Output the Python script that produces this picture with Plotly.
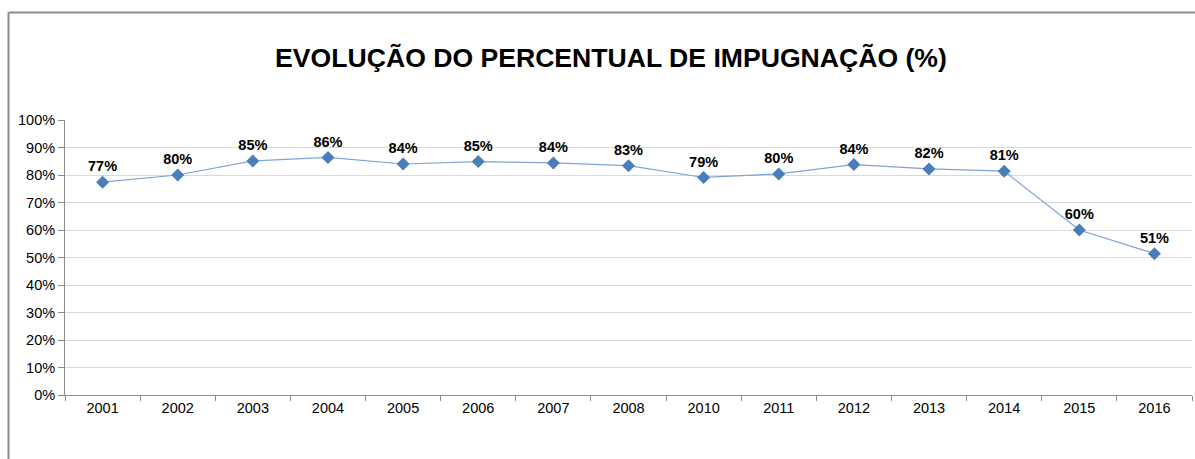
import plotly.graph_objects as go

years = ["2001", "2002", "2003", "2004", "2005", "2006", "2007", "2008",
         "2010", "2011", "2012", "2013", "2014", "2015", "2016"]
percent = [0.774, 0.800, 0.851, 0.864, 0.840, 0.849, 0.844, 0.834,
           0.791, 0.804, 0.838, 0.822, 0.814, 0.600, 0.514]
y_ticks = [i / 10 for i in range(11)]

FONT = "Liberation Sans, Arial, sans-serif"

fig = go.Figure()
fig.add_trace(go.Scatter(
    x=years, y=percent,
    mode="lines+markers+text",
    line=dict(color="#7ea3d6", width=1.2),
    marker=dict(symbol="diamond", size=10, color="#4a7ebb"),
    texttemplate="%{y:.0%}",
    textposition="top center",
    textfont=dict(family=FONT, size=14.5, color="#000000", weight="bold"),
    cliponaxis=False,
    hoverinfo="skip",
))

fig.update_layout(
    width=1195, height=459,
    margin=dict(l=65, r=3, t=120, b=64),
    paper_bgcolor="white", plot_bgcolor="white",
    showlegend=False,
    title=dict(
        text="<b>EVOLUÇÃO DO PERCENTUAL DE IMPUGNAÇÃO (%)</b>",
        x=611 / 1195, xanchor="center", y=1 - 58 / 459, yanchor="middle",
        font=dict(family=FONT, size=26.6, color="#000000"),
    ),
    font=dict(family=FONT, size=14, color="#000000"),
)

fig.update_xaxes(
    type="category", categoryorder="array", categoryarray=years,
    range=[-0.5, len(years) - 0.5],
    showline=True, linecolor="#8c8c8c", linewidth=1,
    ticks="outside", tickson="boundaries", ticklen=5, tickcolor="#8c8c8c",
    showgrid=False, tickfont=dict(size=14.5),
)
fig.update_yaxes(
    range=[0, 1], tickvals=y_ticks, tickformat=".0%",
    showline=True, linecolor="#8c8c8c", linewidth=1,
    ticks="outside", ticklen=6, tickcolor="#8c8c8c",
    showgrid=True, gridcolor="#d9d9d9", gridwidth=1,
    zeroline=False, tickfont=dict(size=14.5),
)

# outer chart border (left and top visible)
bx = (8.5 - 65) / 1127
by = (395 - 12.5) / 275
fig.add_shape(type="line", xref="paper", yref="paper",
              x0=bx, x1=(1200 - 65) / 1127, y0=by, y1=by,
              line=dict(color="#8c8c8c", width=2))
fig.add_shape(type="line", xref="paper", yref="paper",
              x0=bx, x1=bx, y0=by, y1=(395 - 470) / 275,
              line=dict(color="#8c8c8c", width=2))

fig.write_html("out.html",
               config={"displayModeBar": False},
               post_script="document.body.style.margin='0';document.body.style.overflow='hidden';")
